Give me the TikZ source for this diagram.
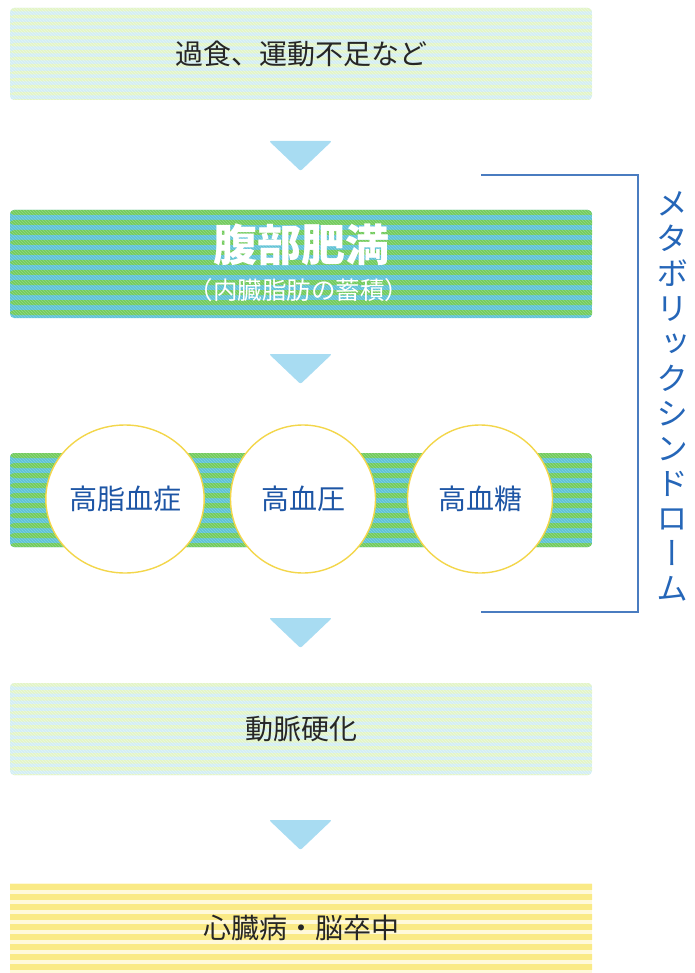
\documentclass[tikz,border=0pt]{standalone}
\usepackage{fontspec}
\setmainfont{Noto Sans CJK JP}
\newfontfamily\vjp[RawFeature=+vert]{Noto Sans CJK JP}
\usetikzlibrary{shapes.geometric,patterns}
\definecolor{paleg}{HTML}{E4F5C4}
\definecolor{palec}{HTML}{D3EEF4}
\definecolor{darkg}{HTML}{72CB5C}
\definecolor{darkc}{HTML}{5EC2D6}
\definecolor{yel}{HTML}{FAEA86}
\definecolor{paley}{HTML}{FFF9DA}
\definecolor{arrowc}{HTML}{A8DCF2}
\definecolor{txtblue}{HTML}{1D55A5}
\definecolor{bracketc}{HTML}{4A7CC0}
\definecolor{labblue}{HTML}{2566B8}
\definecolor{ringc}{HTML}{F3D64A}
\tikzset{
  boxbase/.style={minimum width=582pt, inner sep=0pt, rounded corners=4pt},
  lightbox/.style={boxbase, path picture={
      \fill[palec] (path picture bounding box.north west) rectangle (path picture bounding box.south east);
      \foreach \k in {0,...,16}{
        \fill[paleg] ([yshift=-\k*7pt]path picture bounding box.north west) rectangle ++(600pt,-3.5pt);}
      \fill[pattern=north west lines, pattern color=white!70!palec, opacity=0.5] (path picture bounding box.north west) rectangle (path picture bounding box.south east);
  }},
  darkbox/.style={boxbase, path picture={
      \fill[darkc] (path picture bounding box.north west) rectangle (path picture bounding box.south east);
      \foreach \k in {0,...,12}{
        \fill[darkg] ([yshift=-\k*10pt]path picture bounding box.north west) rectangle ++(600pt,-5pt);}
      \fill[pattern=north west lines, pattern color=white, opacity=0.25] (path picture bounding box.north west) rectangle (path picture bounding box.south east);
  }},
  yellowbox/.style={boxbase, rounded corners=0pt, path picture={
      \fill[paley] (path picture bounding box.north west) rectangle (path picture bounding box.south east);
      \foreach \k in {0,...,12}{
        \fill[yel] ([yshift=-\k*10pt-1pt]path picture bounding box.north west) rectangle ++(600pt,-6pt);}
  }},
  downarrow/.style={fill=arrowc, rounded corners=2pt},
  ring/.style={ellipse, fill=white, draw=ringc, line width=1.4pt, minimum width=145pt, minimum height=148pt, inner sep=0pt,
    text=txtblue, font=\fontsize{28}{30}\selectfont},
  bracket/.style={draw=bracketc, line width=1.5pt},
  blacktxt/.style={text=black!85, font=\fontsize{28}{30}\selectfont}
}
\begin{document}
\begin{tikzpicture}[x=1pt, y=-1pt]
\useasboundingbox (0,0) rectangle (694,973);
% boxes
\node[lightbox, minimum height=92pt, blacktxt] (b1) at (301,54) {過食、運動不足など};
\node[darkbox, minimum height=108pt] (b2) at (301,264) {};
\node[text=white, font=\fontsize{44}{46}\selectfont\bfseries, inner sep=0pt] (t2) at (301,245) {腹部肥満};
\node[text=white, font=\fontsize{24.5}{26}\selectfont, inner sep=0pt] (s2) at (299,290) {（内臓脂肪の蓄積）};
\node[darkbox, minimum height=94pt] (b3) at (301,500) {};
\node[lightbox, minimum height=92pt, blacktxt] (b4) at (301,729) {動脈硬化};
\node[yellowbox, minimum height=90pt, blacktxt] (b5) at (301,928) {心臓病・脳卒中};
% circles
\node[ring] (c1) at (125,499) {高脂血症};
\node[ring] (c2) at (303,499) {高血圧};
\node[ring] (c3) at (480,499) {高血糖};
% arrows
\fill[downarrow] (269,141) -- (332,141) -- (300.5,171) -- cycle;
\fill[downarrow] (269,354) -- (332,354) -- (300.5,384) -- cycle;
\fill[downarrow] (269,618) -- (332,618) -- (300.5,648) -- cycle;
\fill[downarrow] (269,820) -- (332,820) -- (300.5,850) -- cycle;
% bracket
\coordinate (bt) at (481,175);
\coordinate (bb) at (481,612);
\draw[bracket] (bt) -- (638,175) -- (638,612) -- (bb);
% vertical label
\node[text=labblue, font=\vjp\fontsize{32}{35}\selectfont, align=center, inner sep=0pt] (lab) at (672,396)
  {メ\\タ\\ボ\\リ\\ッ\\ク\\シ\\ン\\ド\\ロ\\ー\\ム};
\end{tikzpicture}
\end{document}
